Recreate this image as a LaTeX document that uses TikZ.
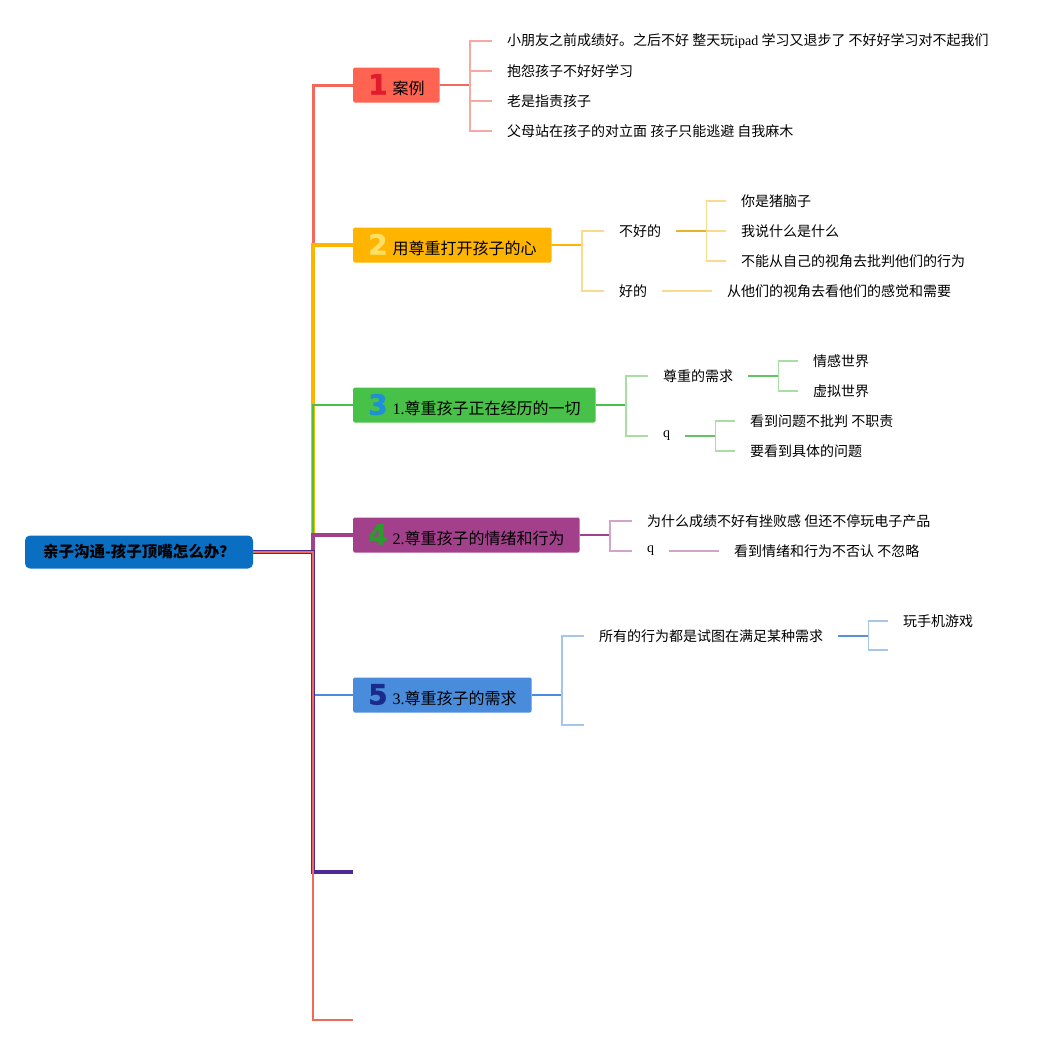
\documentclass[tikz,border=0pt]{standalone}
\usepackage{fontspec}
\setmainfont{Noto Sans CJK SC}
\newfontfamily\latinfont{Liberation Serif}
\newfontfamily\numfont{DejaVu Sans}[FakeBold=1.2]
\definecolor{rootcolor}{HTML}{0A6FC2}
\definecolor{redmain}{HTML}{FF6352}
\definecolor{redline}{HTML}{F0695A}
\definecolor{redlight}{HTML}{F4AAA2}
\definecolor{rednum}{HTML}{E01B2E}
\definecolor{orangemain}{HTML}{FFB400}
\definecolor{orangemid}{HTML}{E8B22E}
\definecolor{orangelight}{HTML}{FADA8E}
\definecolor{orangenum}{HTML}{FFE065}
\definecolor{greenmain}{HTML}{47C147}
\definecolor{greenmid}{HTML}{62C462}
\definecolor{greenlight}{HTML}{A8DEA2}
\definecolor{greennum}{HTML}{1E8FD8}
\definecolor{purplemain}{HTML}{A3408C}
\definecolor{purplelight}{HTML}{D3A3CB}
\definecolor{purplenum}{HTML}{2C9A2C}
\definecolor{bluemain}{HTML}{4A8CDC}
\definecolor{bluemid}{HTML}{5B8FD6}
\definecolor{bluelight}{HTML}{A5C5E9}
\definecolor{bluenum}{HTML}{1B2A8C}
\definecolor{darkpurple}{HTML}{4B2A96}
\newcommand\topicnum[2]{{\numfont\bfseries\fontsize{28}{28}\selectfont\color{#1}#2}\hspace{5pt}}
\tikzset{
  map root/.style={fill=rootcolor,rounded corners=5pt,minimum width=228pt,minimum height=33pt,
    inner sep=0pt,font=\fontsize{15.5}{18}\selectfont\bfseries},
  map topic/.style={anchor=west,rounded corners=1.5pt,minimum height=35pt,inner xsep=15pt,
    font=\fontsize{16}{19}\selectfont},
  map leaf/.style={anchor=west,inner xsep=15pt,inner ysep=2pt,font=\fontsize{14}{17}\selectfont},
  map trunk/.style={line width=#1},
  map line/.style={#1,line width=2pt},
  map bracket/.style={#1,line width=1.5pt}
}

\begin{document}
\begin{tikzpicture}[x=1pt,y=-1pt]
  \useasboundingbox (0,0) rectangle (1050,1045);
  \node[map root] (root) at (139,552) {亲子沟通-孩子顶嘴怎么办？};
  \coordinate (hub) at (313,552);
  \node[map topic,fill=redmain] (t1) at (353,85) {\topicnum{rednum}{1}案例};
  \node[map topic,fill=orangemain] (t2) at (353,245) {\topicnum{orangenum}{2}用尊重打开孩子的心};
  \node[map topic,fill=greenmain] (t3) at (353,405) {\topicnum{greennum}{3}{\latinfont 1.}尊重孩子正在经历的一切};
  \node[map topic,fill=purplemain] (t4) at (353,535) {\topicnum{purplenum}{4}{\latinfont 2.}尊重孩子的情绪和行为};
  \node[map topic,fill=bluemain] (t5) at (353,695) {\topicnum{bluenum}{5}{\latinfont 3.}尊重孩子的需求};
  \coordinate (t6) at (353,872);
  \coordinate (t7) at (353,1020);

  % trunk lines from the root
  \draw[map trunk=3pt,redline] (root.east) -- (hub) |- (t1.west);
  \draw[map trunk=4.5pt,orangemain] (root.east) -- (hub) |- (t2.west);
  \draw[map trunk=2pt,greenmain] (root.east) -- (hub) |- (t3.west);
  \draw[map trunk=4.5pt,purplemain] (root.east) -- (hub) |- (t4.west);
  \draw[map trunk=2pt,bluemain] (root.east) -- (hub) |- (t5.west);
  \draw[map trunk=4.5pt,darkpurple] (root.east) -- (hub) |- (t6);
  \draw[map trunk=2pt,redline] (root.east) -- (hub) |- (t7);

  % 1 案例
  \foreach \n/\y/\txt in {a/41/小朋友之前成绩好。之后不好 整天玩{\latinfont ipad} 学习又退步了 不好好学习对不起我们,
      b/71/抱怨孩子不好好学习, c/101/老是指责孩子, d/131/父母站在孩子的对立面 孩子只能逃避 自我麻木}
    \node[map leaf] (c1\n) at (492,\y) {\txt};
  \draw[map line=redline] (t1.east) -- ++(30,0) coordinate (b1);
  \foreach \n in {a,b,c,d} \draw[map bracket=redlight] (b1) |- (c1\n.west);

  % 2 用尊重打开孩子的心
  \node[map leaf] (c2a) at (604,231) {不好的};
  \node[map leaf] (c2b) at (604,291) {好的};
  \draw[map line=orangemain] (t2.east) -- ++(30,0) coordinate (b2);
  \foreach \n in {a,b} \draw[map bracket=orangelight] (b2) |- (c2\n.west);
  \foreach \n/\y/\txt in {a/201/你是猪脑子, b/231/我说什么是什么, c/261/不能从自己的视角去批判他们的行为}
    \node[map leaf] (c2a\n) at (726,\y) {\txt};
  \draw[map line=orangemid] (c2a.east) -- ++(30,0) coordinate (b2a);
  \foreach \n in {a,b,c} \draw[map bracket=orangelight] (b2a) |- (c2a\n.west);
  \node[map leaf] (c2ba) at (712,291) {从他们的视角去看他们的感觉和需要};
  \draw[map line=orangelight] (c2b.east) -- (c2ba.west);

  % 3 尊重孩子正在经历的一切
  \node[map leaf] (c3a) at (648,376) {尊重的需求};
  \node[map leaf] (c3b) at (648,436) {\latinfont q};
  \draw[map line=greenmain] (t3.east) -- ++(30,0) coordinate (b3);
  \foreach \n in {a,b} \draw[map bracket=greenlight] (b3) |- (c3\n.west);
  \node[map leaf] (c3aa) at (798,361) {情感世界};
  \node[map leaf] (c3ab) at (798,391) {虚拟世界};
  \draw[map line=greenmid] (c3a.east) -- ++(30,0) coordinate (b3a);
  \foreach \n in {a,b} \draw[map bracket=greenlight] (b3a) |- (c3a\n.west);
  \node[map leaf] (c3ba) at (735,421) {看到问题不批判 不职责};
  \node[map leaf] (c3bb) at (735,451) {要看到具体的问题};
  \draw[map line=greenmid] (c3b.east) -- ++(30,0) coordinate (b3b);
  \foreach \n in {a,b} \draw[map bracket=greenlight] (b3b) |- (c3b\n.west);

  % 4 尊重孩子的情绪和行为
  \node[map leaf] (c4a) at (632,521) {为什么成绩不好有挫败感 但还不停玩电子产品};
  \node[map leaf] (c4b) at (632,551) {\latinfont q};
  \draw[map line=purplemain] (t4.east) -- ++(30,0) coordinate (b4);
  \foreach \n in {a,b} \draw[map bracket=purplelight] (b4) |- (c4\n.west);
  \node[map leaf] (c4ba) at (719,551) {看到情绪和行为不否认 不忽略};
  \draw[map line=purplelight] (c4b.east) -- (c4ba.west);

  % 5 尊重孩子的需求
  \node[map leaf] (c5a) at (584,636) {所有的行为都是试图在满足某种需求};
  \coordinate (c5b) at (584,725);
  \draw[map line=bluemain] (t5.east) -- ++(30,0) coordinate (b5);
  \draw[map bracket=bluelight] (b5) |- (c5a.west);
  \draw[map bracket=bluelight] (b5) |- (c5b);
  \node[map leaf] (c5aa) at (888,621) {玩手机游戏};
  \coordinate (c5ab) at (888,650);
  \draw[map line=bluemid] (c5a.east) -- ++(30,0) coordinate (b5a);
  \draw[map bracket=bluelight] (b5a) |- (c5aa.west);
  \draw[map bracket=bluelight] (b5a) |- (c5ab);
\end{tikzpicture}
\end{document}
